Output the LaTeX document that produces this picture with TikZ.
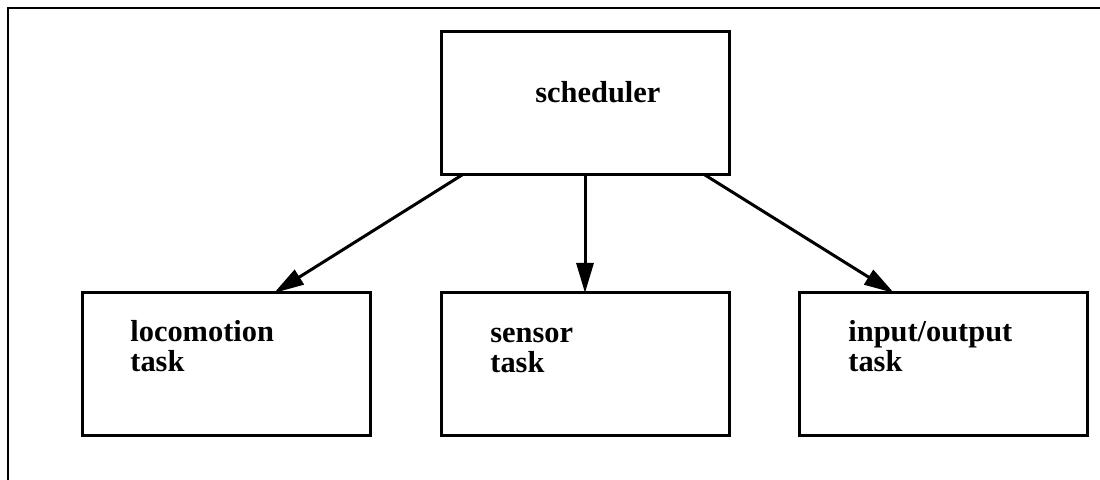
\documentclass[tikz,border=0pt]{standalone}
\usepackage{fontspec}
\setmainfont{Liberation Serif}
\usetikzlibrary{positioning,arrows.meta}

\tikzset{
  taskbox/.style={draw, rectangle, line width=1.5pt, minimum width=144pt, minimum height=71.5pt, inner sep=0pt, outer sep=0pt},
  boxtext/.style={anchor=base west, align=left, inner sep=0pt, font=\fontsize{15.2}{15}\selectfont\bfseries},
  flow/.style={line width=1.5pt, -{Triangle[length=15pt, width=8.5pt]}}
}

\begin{document}
\begin{tikzpicture}[x=0.5pt, y=-0.5pt]
  \useasboundingbox (0,0) rectangle (1100,480);
  % frame
  \draw[line width=1.2pt] (8,480) -- (8,8) -- (1100,8);

  % boxes
  \node[taskbox] (sched) at (585,103.5) {};
  \node[taskbox, below=59pt of sched] (sensor) {};
  \node[taskbox, left=35.5pt of sensor] (loco) {};
  \node[taskbox, right=35pt of sensor] (io) {};

  % labels (base = last line)
  \node[boxtext] (schedtxt) at ([shift={(94,71)}]sched.north west) {scheduler};
  \node[boxtext] (locotxt) at ([shift={(48,79)}]loco.north west) {locomotion\\task};
  \node[boxtext] (sensortxt) at ([shift={(49,80)}]sensor.north west) {sensor\\task};
  \node[boxtext] (iotxt) at ([shift={(49,79)}]io.north west) {input/output\\task};

  % arrows
  \draw[flow] ([xshift=10.5pt]sched.south west) -- ([xshift=96pt]loco.north west);
  \draw[flow] (sched.south) -- (sensor.north);
  \draw[flow] ([xshift=132pt]sched.south west) -- ([xshift=47.5pt]io.north west);
\end{tikzpicture}
\end{document}
